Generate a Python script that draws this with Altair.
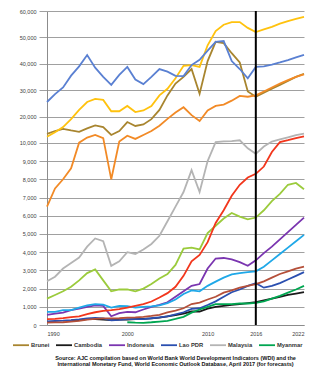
import altair as alt
import pandas as pd

years = list(range(1990, 2023))

brunei = [13400, 14500, 15300, 14700, 14200, 15500, 16600, 16000, 13000, 14500,
          17900, 16400, 17000, 19000, 22500, 28000, 32500, 35000, 38000, 28600,
          41000, 48300, 47800, 44000, 40500, 29500, 27500, 29000, 30500, 32000,
          33500, 35000, 36200]
cambodia = [None, None, None, 250, 270, 320, 320, 300, 270, 290,
            300, 320, 340, 360, 410, 470, 540, 630, 740, 740,
            900, 1000, 1050, 1100, 1150, 1200, 1250, 1350, 1450, 1550,
            1650, 1720, 1800]
indonesia = [550, 620, 680, 820, 900, 1000, 1080, 1050, 480, 650,
             720, 700, 850, 1000, 1100, 1250, 1550, 1850, 2150, 2250,
             3100, 3650, 3680, 3600, 3450, 3250, 3550, 3950, 4300, 4700,
             5100, 5500, 5900]
laos = [200, 220, 240, 270, 310, 360, 390, 360, 260, 280,
        320, 320, 320, 370, 420, 470, 580, 700, 880, 920,
        1100, 1300, 1550, 1800, 1950, 2150, 2300, 2050, 2150, 2300,
        2500, 2700, 2900]
malaysia = [2400, 2650, 3100, 3400, 3700, 4300, 4750, 4600, 3250, 3500,
            4000, 3900, 4150, 4450, 4900, 5700, 6500, 7300, 8500, 7300,
            9000, 10300, 10600, 10700, 11000, 9700, 9400, 9800, 10500, 11300,
            12100, 12900, 13500]
myanmar = [None, None, None, None, None, None, None, None, None, None,
           150, 130, 120, 150, 190, 230, 330, 450, 680, 850,
           1000, 1150, 1150, 1150, 1180, 1180, 1220, 1300, 1450, 1600,
           1780, 1950, 2150]
philippines = [720, 720, 820, 820, 950, 1080, 1150, 1120, 960, 1050,
               1040, 960, 1000, 1020, 1080, 1200, 1400, 1700, 1900, 1850,
               2150, 2380, 2600, 2780, 2850, 2900, 2950, 3200, 3550, 3900,
               4250, 4600, 4950]
singapore = [12300, 14000, 16000, 19000, 22500, 25500, 26700, 26300, 22000, 22000,
             24000, 21700, 22300, 24000, 28000, 30500, 34500, 39200, 39500, 38800,
             47000, 52400, 54800, 55800, 55800, 53600, 52000, 53000, 54000, 55200,
             56200, 57000, 57800]
thailand = [1450, 1650, 1850, 2100, 2450, 2850, 3050, 2450, 1850, 1950,
            1950, 1850, 2000, 2250, 2550, 2800, 3300, 4200, 4250, 4150,
            5050, 5450, 5850, 6150, 5950, 5800, 5900, 6300, 6800, 7200,
            7700, 7800, 7450]
vietnam = [130, 140, 150, 190, 230, 290, 340, 360, 360, 370,
           400, 420, 450, 500, 560, 690, 790, 920, 1150, 1230,
           1400, 1550, 1780, 1900, 2050, 2150, 2250, 2400, 2600, 2800,
           2950, 3100, 3200]
china = [320, 340, 380, 430, 470, 600, 700, 780, 820, 870,
         950, 1050, 1150, 1290, 1510, 1750, 2100, 2700, 3500, 3850,
         4550, 5600, 6300, 7100, 7700, 8100, 8300, 8700, 9500, 10300,
         11000, 11800, 12500]
japan = [25500, 28500, 31000, 35500, 39000, 43300, 38500, 35000, 32000, 35800,
         38800, 34000, 32300, 35000, 38000, 37000, 35400, 35300, 39500, 41500,
         45000, 48300, 48600, 41000, 38000, 34500, 38800, 39000, 39700, 40500,
         41400, 42400, 43400]
korea = [6500, 7500, 8000, 8600, 10100, 12000, 13000, 11800, 8000, 10500,
         12700, 11500, 13000, 14500, 16500, 19100, 21500, 23500, 20500, 18300,
         22300, 24000, 24500, 26000, 27800, 27500, 28000, 29500, 31000, 32500,
         33800, 35000, 36000]

countries = ["Brunei", "Cambodia", "Indonesia", "Lao PDR", "Malaysia", "Myanmar",
             "Philippines", "Singapore", "Thailand", "Vietnam", "China", "Japan", "Korea"]
series = [brunei, cambodia, indonesia, laos, malaysia, myanmar,
          philippines, singapore, thailand, vietnam, china, japan, korea]
colors = ["#A8852F", "#1A1A1A", "#7A35B0", "#2A4FB0", "#B4B4B4", "#00A651",
          "#1FA8E8", "#FFC20E", "#9BCB3C", "#B5503A", "#F2361C", "#5A80D2", "#F28A26"]
legend_items = ["Brunei", "Cambodia", "Indonesia", "Lao PDR", "Malaysia", "Myanmar"]

x_ticks = [1990, 2000, 2010, 2016, 2022]
y_ticks = [0, 1000, 2000, 3000, 4000, 5000, 6000, 7000, 8000, 9000, 10000,
           20000, 30000, 40000, 50000, 60000]
forecast_start = [2016]

source_lines = [
    "Source: AJC compilation based on World Bank World Development Indicators (WDI) and the",
    "International Monetary Fund, World Economic Outlook Database, April 2017 (for forecasts)",
]

rows = []
for c, vals in zip(countries, series):
    for yr, v in zip(years, vals):
        if v is not None:
            rows.append({"year": yr, "country": c, "gdp": v})
df = pd.DataFrame(rows)

# piecewise y scale: 0-10,000 gets 58% of the height, 10,000-60,000 the rest
LOW_SHARE = 0.58
y_scale = alt.Scale(
    domain=[0, 10000, 60000], nice=False, zero=False,
    range=[{"expr": "height"}, {"expr": "height*(1-%s)" % LOW_SHARE}, 0])

x_enc = alt.X("year:Q",
              scale=alt.Scale(domain=[1990, 2022], nice=False, zero=False),
              axis=alt.Axis(values=x_ticks, format="d", title=None, grid=False,
                            ticks=False, labelFontSize=5.5, labelColor="#404040",
                            domainColor="#8C8C8C", labelPadding=6,
                            labelFont="Liberation Sans"))
y_enc = alt.Y("gdp:Q", scale=y_scale,
              axis=alt.Axis(values=y_ticks, labelExpr="format(datum.value, ',')",
                            title=None,
                            gridColor="#A0A0A0", gridWidth=1, tickColor="#A0A0A0",
                            tickSize=8, labelFontSize=5.5, labelColor="#404040",
                            domainColor="#8C8C8C", labelPadding=3,
                            labelFont="Liberation Sans"))

lines = alt.Chart(df).mark_line(strokeWidth=1.8).encode(
    x=x_enc,
    y=y_enc,
    color=alt.Color("country:N",
                    scale=alt.Scale(domain=countries, range=colors),
                    legend=alt.Legend(values=legend_items, orient="none",
                                      legendX=-35, legendY=325,
                                      direction="horizontal", columns=6,
                                      symbolType="stroke", symbolSize=256,
                                      symbolStrokeWidth=1.8, labelFontSize=5.8,
                                      labelFontWeight="bold", labelColor="#333333",
                                      labelFont="Liberation Sans",
                                      title=None, columnPadding=2, labelOffset=1)),
    detail="country:N",
)

rule = alt.Chart(pd.DataFrame({"year": forecast_start})).mark_rule(
    color="black", strokeWidth=2).encode(x="year:Q")

chart = alt.layer(lines, rule).properties(
    width=302, height=359,
    autosize=alt.AutoSizeParams(type="fit", contains="padding"),
    padding={"left": 11, "top": 1, "right": 2, "bottom": 0},
    background="white",
    title=alt.TitleParams(text=source_lines, orient="bottom", anchor="middle",
                          fontSize=5.5, fontWeight="bold", color="#111111",
                          font="Liberation Sans", lineHeight=6, offset=19),
).configure_view(stroke=None)

chart.save("out.html", embed_options={"renderer": "svg", "actions": False})
